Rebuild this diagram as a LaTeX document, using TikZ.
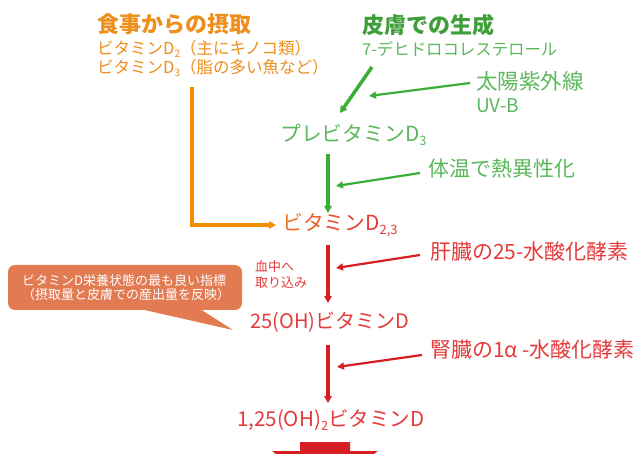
\documentclass[tikz,border=0pt]{standalone}
\usepackage{fontspec}
\usepackage{graphicx}
\setmainfont{Noto Sans CJK JP}
\usetikzlibrary{arrows.meta}
\definecolor{orgT}{HTML}{EE8E1C}
\definecolor{orgL}{HTML}{F28C00}
\definecolor{grnT}{HTML}{5BB75B}
\definecolor{grnH}{HTML}{3E9E3A}
\definecolor{grnL}{HTML}{3AAE36}
\definecolor{redT}{HTML}{E43A3A}
\definecolor{redL}{HTML}{D71E22}
\definecolor{callF}{HTML}{E27A52}
\newcommand\setfs[1]{\fontsize{#1}{#1}\selectfont}
\newcommand\dsub[1]{\raisebox{-0.4ex}{\scalebox{0.62}{#1}}}
\tikzset{
  lbl/.style={inner sep=0pt, anchor=west},
  mainarr/.style={line width=3.5pt, -{Triangle[length=7pt,width=7.5pt]}},
  sidearr/.style={line width=2.2pt, -{Triangle[length=7pt,width=7pt]}},
}
\begin{document}
\begin{tikzpicture}[x=1pt,y=-1pt]
\useasboundingbox (0,0) rectangle (640,454);
\clip (0,0) rectangle (640,454);
% texts
\node[lbl, text=orgT, font=\setfs{22}\bfseries] (dietT) at (97,24) {食事からの摂取};
\node[lbl, text=orgT, font=\setfs{16.5}] (d2) at (97,49) {ビタミンD\dsub{2}（主にキノコ類）};
\node[lbl, text=orgT, font=\setfs{16.5}] (d3) at (97,68) {ビタミンD\dsub{3}（脂の多い魚など）};
\node[lbl, text=grnH, font=\setfs{22}\bfseries] (skinT) at (362,25) {皮膚での生成};
\node[lbl, text=grnT, font=\setfs{16.4}] (dhc) at (362,49) {7-デヒドロコレステロール};
\node[lbl, text=grnT, font=\setfs{21.5}] (uv) at (476,81) {太陽紫外線};
\node[lbl, text=grnT, font=\setfs{19}] (uvb) at (476,106) {UV-B};
\node[lbl, text=grnT, font=\setfs{20.8}] (pre) at (280,135) {プレビタミンD\dsub{3}};
\node[lbl, text=grnT, font=\setfs{21}] (heat) at (428,169) {体温で熱異性化};
\node[lbl, font=\setfs{20.8}] (d23) at (282,225) {\textcolor{orgT!70!redT}{ビ}\textcolor{orgT!45!redT}{タ}\textcolor{orgT!25!redT}{ミ}\textcolor{orgT!10!redT}{ン}\textcolor{redT}{D\dsub{2,3}}};
\node[lbl, text=redT, font=\fontsize{13}{16}\selectfont, align=left] (blood) at (255,275) {血中へ\\取り込み};
\node[lbl, text=redT, font=\setfs{21}] (liver) at (430,252) {肝臓の25-水酸化酵素};
\node[lbl, text=redT, font=\setfs{20}] (oh) at (250,322) {25(OH)ビタミンD};
\node[lbl, text=redT, font=\setfs{21}] (kid) at (430,350) {腎臓の1α -水酸化酵素};
\node[lbl, text=redT, font=\setfs{20.5}] (dih) at (237,420) {1,25(OH)\dsub{2}ビタミンD};
% callout
\fill[callF, rounded corners=7pt] (8,265) rectangle (242,310);
\fill[callF] (140,309) -- (233,330) -- (200,309) -- cycle;
\node[lbl, text=white, font=\fontsize{13}{14}\selectfont, align=left] (callT) at (22,288) {ビタミンD栄養状態の最も良い指標\\（摂取量と皮膚での産出量を反映）};
% coordinates
\coordinate (oS) at (192,87);
\coordinate (oE) at (276,225);
\coordinate (gD1) at (372,67);
\coordinate (gD2) at (340,113);
\coordinate (uvA) at (470,83);
\coordinate (uvB) at (369,96);
\coordinate (gV1) at (328,154);
\coordinate (gV2) at (328,213);
\coordinate (htA) at (420,173);
\coordinate (htB) at (336,186);
\coordinate (rV1) at (328,245);
\coordinate (rV2) at (328,303);
\coordinate (lvA) at (420,255);
\coordinate (lvB) at (336,268);
\coordinate (rW1) at (328,345);
\coordinate (rW2) at (328,403);
\coordinate (kdA) at (422,355);
\coordinate (kdB) at (337,367);
% connectors
\draw[orgL, line width=3.5pt, -{Triangle[length=7pt,width=7.5pt]}] (oS) |- (oE);
\draw[grnL, mainarr] (gD1) -- (gD2);
\draw[grnL, sidearr] (uvA) -- (uvB);
\draw[grnL, mainarr] (gV1) -- (gV2);
\draw[grnL, sidearr] (htA) -- (htB);
\draw[redL, mainarr] (rV1) -- (rV2);
\draw[redL, sidearr] (lvA) -- (lvB);
\draw[redL, mainarr] (rW1) -- (rW2);
\draw[redL, sidearr] (kdA) -- (kdB);
% big arrow
\fill[redL] (300,442) -- (350,442) -- (350,451) -- (378,451) -- (325,490) -- (272,451) -- (300,451) -- cycle;
\end{tikzpicture}
\end{document}
